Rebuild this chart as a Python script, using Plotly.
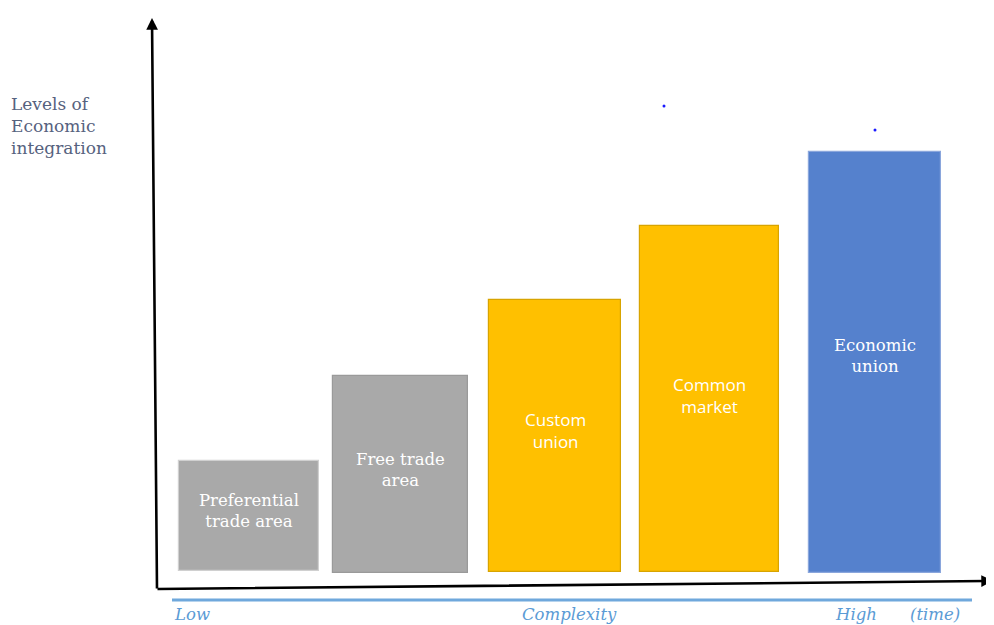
import plotly.graph_objects as go

# ---- data (chart units: x across, y = level upward) ----
stages = ["Preferential<br>trade area", "Free trade<br>area", "Custom<br>union",
          "Common<br>market", "Economic<br>union"]
x_center = [249, 400.5, 555, 709.5, 875]
bar_width = [140, 135, 132, 139, 132]
bar_base = [54, 52, 53, 53, 52]
bar_height = [110, 197, 272, 346, 421]
label_y = [114, 155, 195, 230, 269]
bar_colors = ["#a9a9a9", "#a9a9a9", "#ffc000", "#ffc000", "#5581cd"]
line_colors = ["#d0d0d0", "#9a9a9a", "#d8a400", "#d8a400", "#8aa6dc"]
label_fonts = ["DejaVu Serif", "DejaVu Serif", "Open Sans", "Open Sans", "DejaVu Serif"]
label_sizes = [16.5, 16.5, 17, 17, 16.5]

y_label = "Levels of<br>Economic<br>integration"
bottom_labels = ["Low", "Complexity", "High", "(time)"]
bottom_x = [172, 520, 833, 908]

dots_x = [664, 875]
dots_y = [519, 495]

fig = go.Figure()

fig.add_trace(go.Bar(
    x=x_center, y=bar_height, base=bar_base, width=bar_width,
    marker=dict(color=bar_colors, line=dict(color=line_colors, width=1.2)),
    hoverinfo="skip", showlegend=False,
))

fig.add_trace(go.Scatter(
    x=dots_x, y=dots_y, mode="markers",
    marker=dict(color="#1a1aff", size=3), showlegend=False, hoverinfo="skip",
))

annotations = []
for xc, ly, s, f, fs in zip(x_center, label_y, stages, label_fonts, label_sizes):
    annotations.append(dict(
        x=xc, y=ly, xref="x", yref="y", text=s, showarrow=False,
        font=dict(family=f, size=fs, color="white"),
        align="center", xanchor="center", yanchor="middle",
    ))

# vertical axis arrow
annotations.append(dict(
    x=152, y=607, ax=157, ay=35, xref="x", yref="y", axref="x", ayref="y",
    text="", showarrow=True, arrowhead=2, arrowsize=0.9, arrowwidth=2.6,
    arrowcolor="black",
))
# horizontal axis arrow
annotations.append(dict(
    x=993, y=44, ax=156, ay=36, xref="x", yref="y", axref="x", ayref="y",
    text="", showarrow=True, arrowhead=2, arrowsize=0.9, arrowwidth=2.6,
    arrowcolor="black",
))

annotations.append(dict(
    x=9, y=499, xref="x", yref="y", text=y_label, showarrow=False,
    xanchor="left", yanchor="middle", align="left",
    font=dict(family="DejaVu Serif", size=17, color="#56627e"),
))

for t, bx in zip(bottom_labels, bottom_x):
    annotations.append(dict(
        x=bx, y=11, xref="x", yref="y", text="<i>" + t + "</i>", showarrow=False,
        xanchor="left", yanchor="middle",
        font=dict(family="DejaVu Serif", size=16.5, color="#5b9bd5"),
    ))

fig.add_shape(type="line", x0=172, x1=972, y0=25, y1=25, xref="x", yref="y",
              line=dict(color="#6fa8dc", width=3))

# page body has an 8px margin: size and range the figure so data units match page pixels
fig.update_layout(
    width=986, height=617,
    margin=dict(l=0, r=0, t=0, b=0),
    paper_bgcolor="white", plot_bgcolor="white",
    xaxis=dict(range=[8, 994], visible=False, fixedrange=True),
    yaxis=dict(range=[0, 617], visible=False, fixedrange=True),
    annotations=annotations,
    bargap=0,
)

fig.write_html("out.html")
